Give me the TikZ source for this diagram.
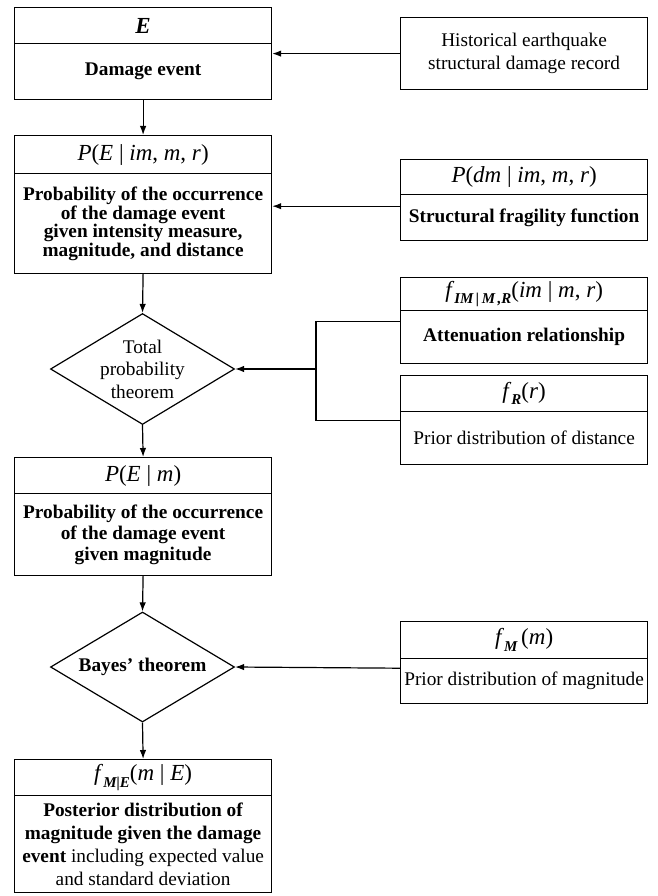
\documentclass[tikz,border=0pt]{standalone}
\usepackage{fontspec}
\setmainfont{Liberation Serif}
\usetikzlibrary{arrows.meta,shapes.geometric}
\newcommand\subb[1]{\raisebox{-0.28em}{\fontsize{15}{15}\selectfont\bfseries\itshape #1}}
\begin{document}
\begin{tikzpicture}[x=1pt,y=-1pt,
  lw/.style={line width=1.2pt},
  cell/.style={draw, lw, inner sep=0pt, anchor=north west, align=center, font=\fontsize{19.3}{19.3}\selectfont},
  lcell/.style={cell, minimum width=257pt},
  rcell/.style={cell, minimum width=247pt},
  hdr/.style={font=\fontsize{23}{24}\selectfont},
  conn/.style={lw, -{Latex[length=9pt,width=6.5pt]}},
  dia/.style={draw, lw, diamond, minimum width=184pt, minimum height=111pt, inner sep=0pt}]
\useasboundingbox (0,0) rectangle (657,896);

% left column
\node[lcell, hdr, minimum height=36pt] (Ah) at (14,7) {\textbf{\textit{E}}};
\node[lcell, minimum height=56pt] (Ab) at (14,43) {\raisebox{-4pt}{\textbf{Damage event}}};
\node[lcell, hdr, minimum height=38pt] (Bh) at (14,135) {\textit{P}(\textit{E}\ |\ \textit{im}, \textit{m}, \textit{r})};
\node[lcell, minimum height=100pt, font=\fontsize{19.3}{18.5}\selectfont] (Bb) at (14,173) {\textbf{Probability of the occurrence}\\\textbf{of the damage event}\\\textbf{given intensity measure,}\\\textbf{magnitude, and distance}};
\node[dia] (D1) at (142.5,369) {};
\node[align=center, inner sep=0pt, font=\fontsize{19.3}{22.5}\selectfont] (D1t) at (D1) {Total\\probability\\theorem};
\node[lcell, hdr, minimum height=36pt] (Ch) at (14,457) {\textit{P}(\textit{E}\ |\ \textit{m})};
\node[lcell, minimum height=82pt, font=\fontsize{19.3}{21}\selectfont] (Cb) at (14,493) {\textbf{Probability of the occurrence}\\\textbf{of the damage event}\\\textbf{given magnitude}};
\node[dia, minimum height=110pt] (D2) at (142.5,667) {};
\node[inner sep=0pt, font=\fontsize{19.3}{22}\selectfont] (D2t) at (D2) {\textbf{Bayes’ theorem}};
\node[lcell, hdr, minimum height=36pt] (Fh) at (14,759) {\textit{f}\subb{M|E}(\textit{m}\ |\ \textit{E})};
\node[lcell, minimum height=97pt, font=\fontsize{19.3}{23}\selectfont] (Fb) at (14,795) {\textbf{Posterior distribution of}\\\textbf{magnitude given the damage}\\\textbf{event} including expected value\\and standard deviation};

% right column
\node[rcell, minimum height=72pt, font=\fontsize{19.3}{23}\selectfont] (H) at (400,17) {Historical earthquake\\structural damage record};
\node[rcell, hdr, minimum height=35pt] (Gh) at (400,159) {\textit{P}(\textit{dm}\ |\ \textit{im}, \textit{m}, \textit{r})};
\node[rcell, minimum height=46pt] (Gb) at (400,194) {\textbf{Structural fragility function}};
\node[rcell, hdr, minimum height=33pt] (Ih) at (400,277) {\textit{f}\subb{IM\,|\,M\,,R}(\textit{im}\ |\ \textit{m}, \textit{r})};
\node[rcell, minimum height=53pt] (Ib) at (400,310) {\textbf{Attenuation relationship}};
\node[rcell, hdr, minimum height=36pt] (Rh) at (400,375) {\textit{f}\subb{R}(\textit{r})};
\node[rcell, minimum height=53pt] (Rb) at (400,411) {Prior distribution of distance};
\node[rcell, hdr, minimum height=37pt] (Mh) at (400,621) {\textit{f}\subb{M}\,(\textit{m})};
\node[rcell, minimum height=45pt] (Mb) at (400,658) {Prior distribution of magnitude};

% connectors
\draw[conn] (H.west) -- (H.west -| Ab.east);
\draw[conn] ([yshift=-11pt]Gh.south west) -- ([yshift=-11pt]Gh.south west -| Bb.east);
\coordinate (J) at (316,369);
\draw[lw] ([yshift=-10pt]Ih.south west) -| (J) |- ([yshift=-8.5pt]Rh.south west);
\draw[conn] (J) -- (D1.east);
\draw[conn] ([yshift=-9pt]Mh.south west) -- (D2.east);

\draw[conn] (Ab.south) -- (Bh.north);
\draw[conn] (Bb.south) -- (D1.north);
\draw[conn] (D1.south) -- (Ch.north);
\draw[conn] (Cb.south) -- (D2.north);
\draw[conn] (D2.south) -- (Fh.north);
\end{tikzpicture}
\end{document}
